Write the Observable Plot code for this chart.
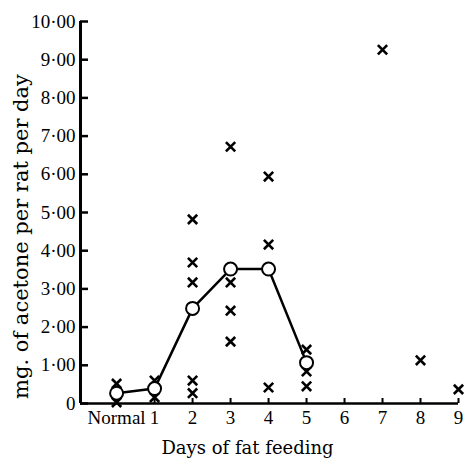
<!DOCTYPE html>
<html><head><meta charset="utf-8">
<script src="https://cdn.jsdelivr.net/npm/d3@7"></script>
<script src="https://cdn.jsdelivr.net/npm/@observablehq/plot@0.6"></script>
<style>
html,body{margin:0;padding:0;background:#fff;}
</style>
</head><body>
<div id="chart"></div>
<script>
const xTickLabels = ["Normal","1","2","3","4","5","6","7","8","9"];
const meanDays = [0,1,2,3,4,5];
const meanValues = [0.27,0.39,2.49,3.52,3.52,1.07];
const obsDays = [0,0, 1,1, 2,2,2,2,2, 3,3,3,3, 4,4,4, 5,5,5, 7, 8, 9];
const obsValues = [0.52,0.03, 0.6,0.16, 4.82,3.69,3.17,0.6,0.27, 6.72,3.17,2.43,1.62, 5.94,4.16,0.42, 1.41,0.84,0.45, 9.26, 1.13, 0.37];
const yTicks = [0,1,2,3,4,5,6,7,8,9,10];
const yLabel = "mg. of acetone per rat per day";
const xLabel = "Days of fat feeding";

const means = meanDays.map((d,i)=>({day:d, value:meanValues[i]}));
const obs = obsDays.map((d,i)=>({day:d, value:obsValues[i]}));
const fmtY = d => d === 0 ? "0" : d.toFixed(2).replace(".", "\u00b7");

const tickFont = "'Liberation Serif', 'Times New Roman', serif";
const titleFont = "'DejaVu Serif', serif";
const chart = Plot.plot({
  width: 467, height: 461,
  marginLeft: 80, marginRight: 9, marginTop: 21, marginBottom: 58,
  style: {fontFamily: tickFont, fontSize: "19px", background: "#fff", color: "#000"},
  x: {domain: [-0.95, 9]},
  y: {domain: [0, 10]},
  marks: [
    Plot.axisY({ticks: yTicks, tickFormat: fmtY, tickSize: -8, tickPadding: 13, strokeWidth: 2.5, label: null, fontSize: 19}),
    Plot.axisX({ticks: d3.range(xTickLabels.length), tickFormat: i => xTickLabels[i], tickSize: -5, tickPadding: 12, strokeWidth: 2, label: null, fontSize: 19}),
    Plot.text([yLabel], {text: d => d, frameAnchor: "left", textAnchor: "middle", lineAnchor: "middle", rotate: -90, dx: -59, dy: 24, fontSize: 21, fontFamily: titleFont}),
    Plot.text([xLabel], {text: d => d, frameAnchor: "bottom", textAnchor: "middle", lineAnchor: "middle", dx: -22, dy: 45, fontSize: 18, fontFamily: titleFont}),
    Plot.ruleY([0], {strokeWidth: 2.5}),
    Plot.ruleX([-0.95], {strokeWidth: 3}),
    Plot.dot(obs, {x: "day", y: "value", symbol: "times", r: 4.3, stroke: "#000", strokeWidth: 2.6}),
    Plot.line(means, {x: "day", y: "value", stroke: "#000", strokeWidth: 2.5}),
    Plot.dot(means, {x: "day", y: "value", symbol: "circle", r: 6.5, fill: "#fff", stroke: "#000", strokeWidth: 2})
  ]
});
document.getElementById("chart").appendChild(chart);
</script>
</body></html>
